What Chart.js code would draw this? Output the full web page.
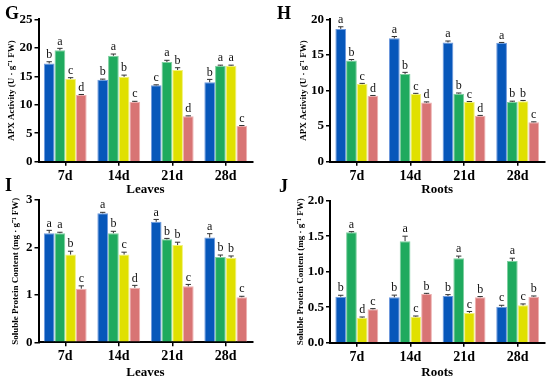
<!DOCTYPE html>
<html>
<head>
<meta charset="utf-8">
<script src="https://cdn.jsdelivr.net/npm/chart.js@4.4.0/dist/chart.umd.min.js"></script>
<style>
body { margin: 0; background: #fff; }
#wrap { position: relative; width: 550px; height: 381px; overflow: hidden; }
#wrap canvas { position: absolute; }
.tag { position: absolute; font: bold 18px 'Liberation Serif', 'Times New Roman', serif; line-height: 18px; color: #000; }
</style>
</head>
<body>
<div id="wrap">
  <canvas id="chartG" width="275" height="200" style="left:0;top:0"></canvas>
  <canvas id="chartH" width="275" height="200" style="left:275px;top:0"></canvas>
  <canvas id="chartI" width="275" height="191" style="left:0;top:190px"></canvas>
  <canvas id="chartJ" width="275" height="191" style="left:275px;top:190px"></canvas>
  <div class="tag" style="left:5px;top:4px">G</div>
  <div class="tag" style="left:277px;top:4px">H</div>
  <div class="tag" style="left:5px;top:176px">I</div>
  <div class="tag" style="left:279px;top:177px">J</div>
</div>
<script>
// sampling days and the four treatments (blue, green, yellow, pink)
const days = ['7d', '14d', '21d', '28d'];
const treatments = ['T1', 'T2', 'T3', 'T4'];
const colors = ['#0757ba', '#1faa5e', '#e0e000', '#d87474'];
const edges = ['#6f9ade', '#7fd0a0', '#f2f27a', '#eeb0b0'];

// G - APX activity, leaves
const leafApx = [
    [17.25, 14.4, 13.4, 13.95],
    [19.55, 18.6, 17.5, 16.85],
    [14.55, 14.9, 16.1, 16.85],
    [11.7, 10.5, 8.0, 6.25]
];
const leafApxErr = [
    [0.3, 0.1, 0.1, 0.5],
    [0.35, 0.3, 0.3, 0.1],
    [0.2, 0.3, 0.4, 0.1],
    [0.1, 0.1, 0.05, 0.1]
];
const leafApxSig = [
    ['b', 'b', 'c', 'b'],
    ['a', 'a', 'a', 'a'],
    ['c', 'b', 'b', 'a'],
    ['d', 'c', 'd', 'c']
];

// H - APX activity, roots
const rootApx = [
    [18.65, 17.33, 16.75, 16.7],
    [14.2, 12.3, 9.55, 8.4],
    [10.9, 9.5, 8.4, 8.5],
    [9.25, 8.3, 6.45, 5.55]
];
const rootApxErr = [
    [0.3, 0.25, 0.2, 0.05],
    [0.15, 0.25, 0.1, 0.1],
    [0.1, 0.1, 0.05, 0.1],
    [0.05, 0.1, 0.05, 0.05]
];
const rootApxSig = [
    ['a', 'a', 'a', 'a'],
    ['b', 'b', 'b', 'b'],
    ['c', 'c', 'c', 'b'],
    ['d', 'd', 'd', 'c']
];

// I - soluble protein, leaves
const leafProt = [
    [2.30, 2.72, 2.54, 2.21],
    [2.30, 2.30, 2.17, 1.80],
    [1.85, 1.85, 2.05, 1.78],
    [1.13, 1.15, 1.18, 0.95]
];
const leafProtErr = [
    [0.06, 0.02, 0.05, 0.08],
    [0.02, 0.04, 0.02, 0.04],
    [0.07, 0.05, 0.06, 0.04],
    [0.06, 0.05, 0.04, 0.02]
];
const leafProtSig = [
    ['a', 'a', 'a', 'a'],
    ['a', 'b', 'b', 'b'],
    ['b', 'c', 'b', 'b'],
    ['c', 'd', 'c', 'c']
];

// J - soluble protein, roots
const rootProt = [
    [0.648, 0.64, 0.657, 0.507],
    [1.554, 1.43, 1.19, 1.15],
    [0.352, 0.366, 0.42, 0.526],
    [0.47, 0.685, 0.64, 0.648]
];
const rootProtErr = [
    [0.02, 0.03, 0.02, 0.02],
    [0.01, 0.07, 0.03, 0.04],
    [0.01, 0.01, 0.02, 0.02],
    [0.01, 0.01, 0.01, 0.01]
];
const rootProtSig = [
    ['b', 'b', 'b', 'c'],
    ['a', 'a', 'a', 'a'],
    ['d', 'c', 'c', 'c'],
    ['c', 'b', 'b', 'b']
];

const serif = "'Liberation Serif', 'Times New Roman', serif";
Chart.defaults.font.family = serif;
Chart.defaults.color = '#000';

// error bars + significance letters, placed with the chart's own y scale
const errorBars = {
    id: 'errorBars',
    afterDatasetsDraw(chart) {
        const ctx = chart.ctx;
        const y = chart.scales.y;
        chart.data.datasets.forEach(function(ds, i) {
            const meta = chart.getDatasetMeta(i);
            meta.data.forEach(function(bar, j) {
                const top = y.getPixelForValue(ds.data[j] + ds.errors[j]);
                const cap = bar.width * 0.25;
                ctx.save();
                ctx.strokeStyle = '#333';
                ctx.lineWidth = 1;
                ctx.beginPath();
                ctx.moveTo(bar.x, bar.y);
                ctx.lineTo(bar.x, top);
                ctx.moveTo(bar.x - cap, top);
                ctx.lineTo(bar.x + cap, top);
                ctx.stroke();
                ctx.fillStyle = '#111';
                ctx.font = '12px ' + serif;
                ctx.textAlign = 'center';
                ctx.textBaseline = 'bottom';
                ctx.fillText(ds.letters[j], bar.x, top - 1);
                ctx.restore();
            });
        });
    }
};

function makeChart(id, values, errors, letters, opt) {
    const datasets = values.map(function(v, i) {
        return {
            label: treatments[i],
            data: v,
            errors: errors[i],
            letters: letters[i],
            backgroundColor: colors[i],
            borderColor: edges[i],
            borderWidth: 1,
            categoryPercentage: 0.8,
            barPercentage: 1.0
        };
    });
    return new Chart(document.getElementById(id), {
        type: 'bar',
        data: { labels: days, datasets: datasets },
        plugins: [errorBars],
        options: {
            responsive: false,
            animation: false,
            layout: { padding: opt.padding },
            plugins: { legend: { display: false }, tooltip: { enabled: false } },
            scales: {
                x: {
                    afterFit: function(scale) { scale.height = opt.xHeight; },
                    grid: { display: true, offset: false, drawOnChartArea: false, drawTicks: true, tickLength: 4, color: '#000', lineWidth: 1.5 },
                    border: { display: true, color: '#000', width: 2 },
                    ticks: { padding: 2, font: { size: 14, weight: 'bold' } },
                    title: { display: true, text: opt.xTitle, padding: { top: 0, bottom: opt.xTitlePad }, font: { size: 13, weight: 'bold' } }
                },
                y: {
                    min: 0,
                    max: opt.max,
                    afterFit: function(scale) { scale.width = opt.yWidth; },
                    grid: { display: true, drawOnChartArea: false, drawTicks: true, tickLength: 4, color: '#000', lineWidth: 1.5 },
                    border: { display: true, color: '#000', width: 2 },
                    ticks: {
                        stepSize: opt.step,
                        padding: 2,
                        font: { size: 13, weight: 'bold' },
                        callback: function(v) { return opt.decimals ? v.toFixed(opt.decimals) : v; }
                    },
                    title: { display: true, text: opt.yTitle, padding: { top: opt.yTitlePad, bottom: 0 }, font: { size: 9, weight: 'bold' } }
                }
            }
        }
    });
}

const apxTitle = 'APX Activity (U \u00b7 g\u207b\u00b9 FW)';
const protTitle = 'Soluble Protein Content (mg \u00b7 g\u207b\u00b9 FW)';

makeChart('chartG', leafApx, leafApxErr, leafApxSig, {
    padding: { left: 0, right: 22.5, top: 19.3, bottom: 0 },
    xHeight: 38.3, yWidth: 38.5, max: 25, step: 5,
    xTitle: 'Leaves', xTitlePad: 3, yTitle: apxTitle, yTitlePad: 6
});
makeChart('chartH', rootApx, rootApxErr, rootApxSig, {
    padding: { left: 0, right: 5.5, top: 19.3, bottom: 0 },
    xHeight: 38.3, yWidth: 55, max: 20, step: 5,
    xTitle: 'Roots', xTitlePad: 3, yTitle: apxTitle, yTitlePad: 23.6
});
makeChart('chartI', leafProt, leafProtErr, leafProtSig, {
    padding: { left: 0, right: 22.5, top: 10, bottom: 0 },
    xHeight: 38.7, yWidth: 38.5, max: 3, step: 1,
    xTitle: 'Leaves', xTitlePad: 1, yTitle: protTitle, yTitlePad: 10.6
});
makeChart('chartJ', rootProt, rootProtErr, rootProtSig, {
    padding: { left: 0, right: 5.5, top: 10.7, bottom: 0 },
    xHeight: 38.3, yWidth: 55, max: 2, step: 0.5, decimals: 1,
    xTitle: 'Roots', xTitlePad: 1, yTitle: protTitle, yTitlePad: 20.6
});
</script>
</body>
</html>
